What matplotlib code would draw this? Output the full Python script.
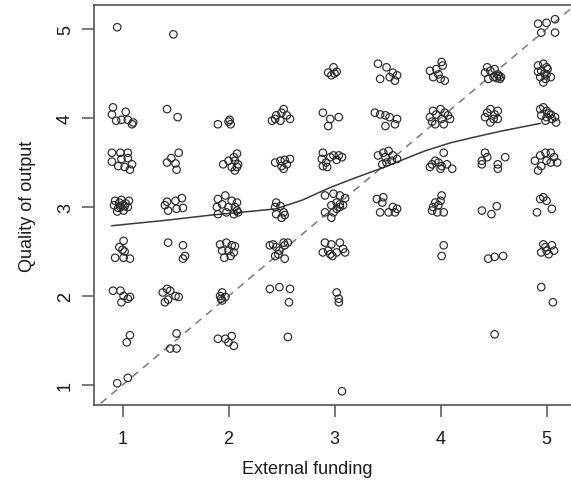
import matplotlib
matplotlib.use("Agg")
import matplotlib.pyplot as plt
import numpy as np

funding = [
    # around 1
    0.95, 0.91, 0.90, 0.94, 0.99, 1.03, 1.05, 1.09, 1.10,
    0.90, 0.98, 1.05, 0.90, 0.99, 1.05, 1.09, 1.07, 0.96, 1.02,
    0.93, 0.99, 1.06, 0.92, 0.96, 1.00, 1.03, 1.05, 1.01, 0.97, 0.98, 1.02, 0.95,
    1.01, 0.97, 1.00, 1.02, 0.93, 1.01, 1.07,
    0.91, 0.98, 1.01, 1.07, 0.99, 1.05,
    1.07, 1.04, 0.95, 1.05,
    # around 1.5
    1.48, 1.42, 1.52,
    1.53, 1.46, 1.42, 1.50, 1.51,
    1.42, 1.50, 1.56, 1.57, 1.51, 1.43, 1.40,
    1.43, 1.57, 1.59, 1.57,
    1.42, 1.38, 1.45, 1.50, 1.43, 1.40, 1.53,
    1.51, 1.45, 1.51,
    # around 2
    1.90, 2.00, 2.02, 2.01,
    1.95, 2.00, 2.05, 2.08, 2.06, 2.03, 2.08, 2.09, 2.06,
    1.90, 1.97, 2.03, 2.08, 1.89, 1.94, 2.00, 2.06, 2.09, 1.90, 1.98, 2.05, 2.08,
    1.92, 1.98, 2.03, 2.06, 1.94, 2.00, 2.05, 1.96, 2.02,
    1.92, 1.94, 1.94, 1.97, 1.93,
    1.90, 1.97, 2.03, 2.05, 2.00,
    # around 2.5
    2.41, 2.45, 2.50, 2.52, 2.55, 2.58, 2.49, 2.44,
    2.44, 2.49, 2.53, 2.58, 2.50, 2.55, 2.52,
    2.45, 2.44, 2.49, 2.45, 2.52, 2.50, 2.53,
    2.39, 2.42, 2.45, 2.48, 2.53, 2.56, 2.52, 2.47, 2.53, 2.44,
    2.39, 2.48, 2.58, 2.57,
    2.56,
    # around 3
    2.94, 2.99, 3.02, 2.97, 3.00,
    2.89, 2.96, 3.04, 2.94,
    2.89, 2.88, 2.92, 2.96, 2.99, 3.04, 3.07, 2.89, 2.93, 3.02,
    2.91, 2.99, 3.05, 3.10, 3.02, 2.97, 3.05, 3.08, 2.91, 2.99, 2.97, 3.02, 3.05,
    2.91, 2.97, 3.05, 2.89, 2.94, 2.98, 3.08, 3.10, 3.02, 2.96,
    3.02, 3.04, 3.04,
    3.07,
    # around 3.5
    3.41, 3.49, 3.55, 3.59, 3.43, 3.57, 3.52,
    3.38, 3.43, 3.48, 3.52, 3.59, 3.48, 3.57,
    3.41, 3.46, 3.51, 3.55, 3.59, 3.45, 3.49, 3.54, 3.48,
    3.40, 3.46, 3.45, 3.51, 3.57, 3.59, 3.43, 3.55,
    # around 4
    3.90, 3.96, 4.01, 4.02, 3.93, 4.00, 4.04, 3.98,
    3.93, 4.00, 4.04, 4.07, 3.90, 3.96, 4.01, 3.95, 4.03, 4.09, 3.92,
    4.03, 3.95, 3.92, 3.98, 3.90, 4.01, 4.06, 4.11, 4.00,
    4.01, 3.95, 3.93, 3.98, 3.92, 3.97, 4.03, 4.00,
    4.03, 4.01,
    # around 4.5
    4.44, 4.47, 4.51, 4.54, 4.57, 4.56, 4.50, 4.45, 4.42, 4.55, 4.53,
    4.44, 4.47, 4.51, 4.54, 4.42, 4.50, 4.54, 4.47,
    4.42, 4.44, 4.39, 4.39, 4.54, 4.61, 4.54,
    4.39, 4.48, 4.53,
    4.45, 4.51, 4.59,
    4.51,
    # around 5
    4.92, 5.00, 5.08, 4.95, 5.08,
    4.92, 4.97, 5.00, 4.92, 4.95, 5.00, 4.94, 4.99, 5.04, 4.97, 4.98, 5.01,
    4.94, 4.97, 5.00, 5.04, 4.95, 5.00, 5.05, 5.09, 4.99, 5.08, 5.02,
    4.89, 4.94, 4.99, 5.04, 5.07, 5.10, 4.95, 5.00, 4.92, 5.04,
    4.94, 4.97, 5.00, 4.91, 5.05,
    4.95, 5.00, 5.05, 4.97, 5.07, 5.02, 4.99,
    4.95, 5.06,
]

quality = [
    # around 1
    5.02, 4.12, 4.04, 3.97, 3.98, 4.07, 3.98, 3.93, 3.95,
    3.61, 3.61, 3.61, 3.51, 3.54, 3.55, 3.48, 3.42, 3.46, 3.45,
    3.07, 3.08, 3.07, 3.02, 2.99, 3.02, 3.04, 3.00, 2.96, 3.05, 3.00, 3.01, 2.95,
    2.62, 2.55, 2.52, 2.50, 2.43, 2.43, 2.42,
    2.06, 2.06, 2.00, 1.99, 1.93, 1.97,
    1.56, 1.48, 1.02, 1.08,
    # around 1.5
    4.94, 4.10, 4.01,
    3.61, 3.55, 3.50, 3.49, 3.42,
    3.06, 3.07, 3.10, 2.99, 2.98, 2.96, 3.02,
    2.60, 2.57, 2.45, 2.42,
    2.08, 2.04, 2.06, 2.00, 1.96, 1.93, 1.99,
    1.58, 1.41, 1.41,
    # around 2
    3.93, 3.96, 3.93, 3.98,
    3.48, 3.52, 3.56, 3.60, 3.52, 3.45, 3.45, 3.48, 3.41,
    3.09, 3.13, 3.07, 3.05, 3.00, 3.03, 3.00, 3.00, 2.94, 2.92, 2.94, 2.92, 2.96,
    2.58, 2.60, 2.57, 2.56, 2.51, 2.51, 2.49, 2.43, 2.45,
    2.00, 2.04, 1.95, 1.99, 1.97,
    1.52, 1.52, 1.55, 1.44, 1.48,
    # around 2.5
    3.97, 4.03, 4.06, 4.10, 4.03, 3.99, 3.97, 3.99,
    3.50, 3.52, 3.53, 3.54, 3.46, 3.48, 3.43,
    3.05, 3.00, 3.01, 2.92, 2.94, 2.88, 2.91,
    2.57, 2.58, 2.55, 2.51, 2.57, 2.60, 2.60, 2.47, 2.42, 2.45,
    2.08, 2.10, 2.08, 1.93,
    1.54,
    # around 3
    4.51, 4.57, 4.52, 4.48, 4.50,
    4.06, 3.99, 4.01, 3.91,
    3.61, 3.54, 3.50, 3.56, 3.58, 3.58, 3.56, 3.46, 3.45, 3.53,
    3.13, 3.15, 3.13, 3.10, 3.05, 3.02, 3.03, 3.02, 2.94, 2.94, 2.88, 2.98, 3.00,
    2.60, 2.58, 2.60, 2.49, 2.51, 2.45, 2.53, 2.49, 2.49, 2.47,
    2.04, 1.97, 1.93,
    0.93,
    # around 3.5
    4.61, 4.57, 4.51, 4.48, 4.44, 4.42, 4.46,
    4.06, 4.04, 4.03, 4.01, 3.99, 3.91, 3.93,
    3.58, 3.61, 3.63, 3.58, 3.54, 3.48, 3.50, 3.52, 3.56,
    3.09, 3.11, 3.05, 2.94, 2.94, 2.98, 2.94, 3.00,
    # around 4
    4.53, 4.55, 4.63, 4.59, 4.46, 4.44, 4.42, 4.49,
    4.08, 4.10, 4.06, 4.03, 4.01, 4.04, 3.99, 3.93, 3.93, 3.99, 3.96,
    3.61, 3.52, 3.48, 3.50, 3.45, 3.46, 3.48, 3.43, 3.43,
    3.13, 3.05, 3.00, 3.02, 2.96, 2.94, 2.94, 3.07,
    2.57, 2.45,
    # around 4.5
    4.57, 4.53, 4.55, 4.49, 4.46, 4.44, 4.46, 4.44, 4.51, 4.47, 4.45,
    4.06, 4.10, 4.04, 4.08, 4.01, 3.99, 3.99, 3.95,
    3.61, 3.56, 3.48, 3.52, 3.48, 3.56, 3.43,
    2.96, 2.92, 3.01,
    2.42, 2.44, 2.45,
    1.57,
    # around 5
    5.06, 5.07, 5.11, 4.96, 4.96,
    4.59, 4.61, 4.57, 4.52, 4.53, 4.49, 4.46, 4.44, 4.46, 4.40, 4.50, 4.55,
    4.10, 4.12, 4.08, 4.04, 4.03, 4.01, 3.99, 3.95, 3.97, 4.01, 4.05,
    3.52, 3.58, 3.61, 3.61, 3.56, 3.50, 3.46, 3.52, 3.41, 3.50,
    3.09, 3.11, 3.07, 2.94, 2.98,
    2.49, 2.51, 2.57, 2.58, 2.51, 2.47, 2.55,
    2.10, 1.93,
]

# Smoothed (lowess) curve
smooth_x = [0.90, 1.40, 1.84, 2.11, 2.45, 2.70, 2.96, 3.20, 3.43, 3.62, 3.85, 4.09, 4.30, 4.56, 4.94]
smooth_y = [2.79, 2.85, 2.91, 2.94, 2.98, 3.08, 3.22, 3.33, 3.43, 3.52, 3.63, 3.72, 3.78, 3.85, 3.94]

ticks = [1, 2, 3, 4, 5]
x_label = "External funding"
y_label = "Quality of output"

plt.rcParams['font.family'] = ['Liberation Sans', 'DejaVu Sans']

fig = plt.figure(figsize=(5.71, 4.89), dpi=100)
ax = fig.add_axes([94 / 571, 1 - 405.7 / 489, 478 / 571, (405.7 - 6) / 489])

ax.set_xlim(0.731, 5.240)
ax.set_ylim(0.779, 5.270)

# identity line
ax.plot([0, 6], [0, 6], linestyle=(0, (5, 4)), color='#7a7a7a', linewidth=1.1, zorder=1)
# smooth line
ax.plot(smooth_x, smooth_y, color='#3a3a3a', linewidth=1.1, zorder=2)

ax.scatter(funding, quality, s=29, facecolors='none', edgecolors='#2a2a2a',
           linewidths=0.85, zorder=3)

frame_col = '#555555'
for sp in ax.spines.values():
    sp.set_color(frame_col)
    sp.set_linewidth(1.2)

ax.set_xticks(ticks)
ax.set_yticks(ticks)
ax.set_xticklabels([str(t) for t in ticks])
ax.set_yticklabels([str(t) for t in ticks], rotation=90, va='center')
ax.tick_params(axis='both', direction='out', length=8.5, width=1.1, color=frame_col,
               labelsize=13, labelcolor='#1a1a1a')
ax.tick_params(axis='x', pad=10)
ax.tick_params(axis='y', pad=6)

fig.text(307 / 571, 1 - 470 / 489, x_label, ha='center', va='center', fontsize=13, color='#1a1a1a')
fig.text(27 / 571, 1 - 206 / 489, y_label, ha='center', va='center', rotation=90,
         fontsize=13, color='#1a1a1a')

fig.savefig("out.png", dpi=100)
